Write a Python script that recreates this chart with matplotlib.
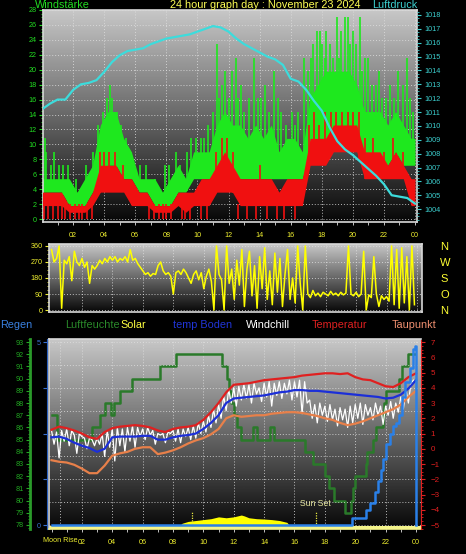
import numpy as np
import matplotlib
matplotlib.use('Agg')
import matplotlib.pyplot as plt
from matplotlib.ticker import MultipleLocator

plt.rcParams['font.family'] = ['Liberation Sans', 'DejaVu Sans']

# =========================
# Data
# =========================
# wind (km/h), envelope of each half-hour bin starting at 0:00
gust_lo = [3.6, 3.6, 3.6, 1.8, 1.8, 1.8, 3.6, 5.4, 7.2, 7.2, 5.4, 5.4,
           3.6, 3.6, 1.8, 1.8, 1.8, 3.6, 3.6, 5.4, 5.4, 5.4, 5.4, 7.2,
           5.4, 5.4, 5.4, 5.4, 5.4, 5.4, 5.4, 5.4, 5.4, 5.4, 9.0, 10.8,
           10.8, 10.8, 10.8, 10.8, 10.8, 9.0, 7.2, 7.2, 7.2, 9.0, 7.2, 7.2]
gust_hi = [5.4, 5.4, 5.4, 5.4, 3.6, 5.4, 7.2, 12.6, 14.4, 14.4, 10.8, 9.0,
           5.4, 5.4, 5.4, 3.6, 5.4, 7.2, 5.4, 9.0, 9.0, 9.0, 12.6, 14.4,
           12.6, 12.6, 10.8, 12.6, 10.8, 12.6, 9.0, 10.8, 10.8, 9.0, 16.2, 18.0,
           19.8, 19.8, 19.8, 19.8, 18.0, 14.4, 14.4, 14.4, 12.6, 14.4, 12.6, 10.8]
wind_lo = [1.8, 1.8, 1.8, 0.9, 0.9, 0.9, 1.8, 3.6, 3.6, 3.6, 3.6, 1.8,
           1.8, 1.8, 0.9, 0.9, 0.9, 1.8, 0.9, 1.8, 1.8, 1.8, 3.6, 3.6,
           3.6, 1.8, 1.8, 1.8, 1.8, 1.8, 1.8, 1.8, 1.8, 1.8, 7.2, 7.2,
           7.2, 9.0, 9.0, 9.0, 9.0, 5.4, 5.4, 5.4, 5.4, 5.4, 5.4, 1.8]
wind_hi = [3.6, 3.6, 3.6, 1.8, 1.8, 1.8, 3.6, 7.2, 7.2, 7.2, 5.4, 5.4,
           3.6, 3.6, 1.8, 1.8, 1.8, 3.6, 3.6, 3.6, 5.4, 5.4, 7.2, 9.0,
           7.2, 5.4, 5.4, 5.4, 5.4, 5.4, 3.6, 5.4, 5.4, 5.4, 10.8, 10.8,
           10.8, 12.6, 12.6, 12.6, 12.6, 9.0, 9.0, 9.0, 7.2, 9.0, 7.2, 5.4]
gust_peak_h = [0.2, 0.25, 0.55, 0.8, 1.1, 1.35, 1.65, 2.2, 2.8, 3.3, 3.6, 3.9, 4.15,
               4.4, 4.5, 4.65, 4.8, 5.05, 5.4, 5.7, 6.3, 6.7, 7.3, 7.9, 8.2, 8.6,
               8.9, 9.3, 9.6, 9.9, 10.2, 10.4, 10.7, 11.0, 11.25, 11.4, 11.6, 11.8,
               12.0, 12.2, 12.45, 12.6, 12.8, 13.0, 13.3, 13.65, 13.9, 14.1, 14.35,
               14.6, 14.9, 15.2, 15.4, 15.7, 16.1, 16.3, 16.5, 16.85, 17.1, 17.3,
               17.45, 17.7, 17.9, 18.0, 18.2, 18.3, 18.5, 18.7, 19.0, 19.1, 19.25,
               19.5, 19.7, 19.85, 20.0, 20.2, 20.45, 20.6, 20.8, 21.0, 21.25, 21.5,
               21.7, 21.9, 22.15, 22.4, 22.65, 22.9, 23.2, 23.5, 23.7, 23.9]
gust_peak = [10.8, 9.0, 7.2, 9.0, 7.2, 7.2, 7.2, 5.4, 7.2, 9.0, 12.6, 14.4, 16.2,
             18.0, 16.2, 14.4, 14.4, 12.6, 10.8, 9.0, 7.2, 7.2, 5.4, 7.2, 7.2, 9.0,
             7.2, 9.0, 10.8, 10.8, 10.8, 10.8, 12.6, 14.4, 23.4, 16.2, 18.0, 19.8,
             16.2, 19.8, 21.6, 16.2, 18.0, 14.4, 16.2, 21.6, 16.2, 16.2, 18.0,
             14.4, 19.8, 16.2, 14.4, 12.6, 14.4, 12.6, 14.4, 21.6, 19.8, 21.6,
             23.4, 25.2, 25.2, 23.4, 21.6, 25.2, 23.4, 21.6, 27.0, 21.6, 25.2,
             27.0, 27.0, 23.4, 25.2, 23.4, 27.0, 19.8, 21.6, 21.6, 18.0, 18.0,
             19.8, 16.2, 16.2, 18.0, 16.2, 19.8, 18.0, 21.6, 16.2, 14.4]
wind_peak_h = [3.7, 4.0, 4.3, 4.7, 5.2, 11.2, 11.6, 11.9, 12.3, 14.0, 17.2, 17.5,
               17.8, 18.2, 18.6, 18.9, 19.3, 19.7, 20.0, 20.4, 20.8, 21.3, 22.0,
               22.6, 23.2]
wind_peak = [9.0, 9.0, 9.0, 9.0, 7.2, 9.0, 10.8, 10.8, 9.0, 7.2, 12.6, 14.4,
             12.6, 14.4, 14.4, 14.4, 14.4, 14.4, 14.4, 14.4, 10.8, 10.8, 9.0,
             10.8, 9.0]
wind_calm_h = [0.1, 0.4, 0.7, 1.0, 1.3, 1.5, 1.8, 2.1, 2.4, 2.6, 2.9, 3.2, 6.9,
               7.2, 7.5, 7.8, 8.0, 8.3, 9.0, 9.2, 9.5, 10.2, 10.6, 12.6, 13.2,
               13.8, 14.5, 15.1, 15.6, 16.3]

# pressure (hPa), every half hour 0:00 .. 24:00
pressure = [1011.2, 1011.6, 1011.9, 1011.9, 1012.6, 1013.0, 1013.1, 1013.3, 1013.9,
            1014.6, 1015.1, 1015.4, 1015.5, 1015.6, 1015.9, 1016.1, 1016.3, 1016.4,
            1016.5, 1016.6, 1016.8, 1017.0, 1017.2, 1017.1, 1016.8, 1016.3, 1015.9,
            1015.6, 1015.3, 1015.0, 1014.8, 1014.4, 1013.4, 1013.2, 1012.6, 1011.8,
            1011.1, 1009.9, 1008.9, 1008.3, 1007.9, 1007.4, 1006.9, 1006.4, 1005.8,
            1005.0, 1004.9, 1004.8, 1004.4]

# wind direction (deg), every 10 minutes
direction = [340, 270, 290, 360, 10, 280, 260, 300, 165, 330, 270, 250,
             290, 240, 270, 150, 250, 230, 250, 280, 260, 290, 270, 300,
             280, 300, 270, 290, 280, 300, 270, 340, 280, 290, 260, 240,
             220, 200, 210, 190, 205, 200, 250, 270, 220, 200, 210, 190,
             90, 210, 220, 200, 230, 210, 180, 150, 200, 220, 170, 210,
             120, 190, 230, 160, 0, 360, 200, 170, 0, 360, 150, 230,
             60, 280, 140, 340, 20, 230, 330, 80, 250, 10, 300, 120,
             350, 60, 220, 30, 320, 100, 290, 20, 200, 340, 60, 180,
             40, 360, 150, 0, 360, 90, 70, 110, 80, 95, 75, 100,
             90, 80, 105, 85, 95, 80, 100, 85, 95, 360, 90, 80,
             100, 75, 90, 330, 0, 85, 70, 300, 90, 20, 80, 60,
             75, 50, 360, 30, 340, 10, 350, 40, 300, 0, 360, 30]
compass = ['N', 'W', 'S', 'O', 'N']

# humidity (%), step changes
humidity_h = [0.0, 0.36, 2.66, 3.19, 3.52, 3.91, 4.11, 4.5, 5.3, 7.14, 8.2, 11.2,
              11.55, 11.7, 11.85, 12.0, 12.2, 12.5, 13.3, 13.55, 14.4, 14.65, 16.7,
              17.2, 18.0, 18.3, 18.6, 19.3, 19.7, 19.84, 19.97, 20.7, 20.8, 21.15,
              21.35, 21.8, 21.9, 22.0, 22.9, 23.1, 23.45, 23.95]
humidity = [87, 85, 86, 87, 88, 87, 88, 89, 90, 91, 92, 91,
            90, 89, 88, 87, 86, 85, 86, 85, 86, 85, 84,
            83, 82, 81, 80, 79, 80, 81, 82, 83, 84, 85,
            86, 87, 88, 89, 90, 91, 92, 92]

# temperatures (deg C), every half hour 0:00 .. 24:00
temperature = [1.25, 1.45, 1.35, 1.2, 1.0, 0.75, 0.65, 1.1, 1.35, 1.45, 1.5, 1.55,
               1.5, 1.4, 1.2, 1.1, 1.3, 1.4, 1.45, 1.55, 1.9, 2.4, 3.0, 3.7,
               4.2, 4.25, 4.3, 4.4, 4.5, 4.55, 4.6, 4.65, 4.7, 4.8, 4.85, 4.9,
               4.95, 4.95, 4.9, 4.95, 4.7, 4.55, 4.5, 4.3, 4.1, 4.05, 4.3, 4.7, 4.95]
ground_temp = [0.75, 0.8, 0.65, 0.4, 0.2, 0.05, -0.2, 0.0, 0.75, 0.8, 0.8, 0.8,
               0.85, 0.85, 0.6, 0.6, 0.75, 0.85, 0.9, 1.0, 1.3, 1.7, 2.2, 3.0,
               3.3, 3.35, 3.4, 3.45, 3.5, 3.6, 3.7, 3.75, 3.85, 3.85, 3.8, 3.8,
               3.75, 3.7, 3.65, 3.6, 3.55, 3.5, 3.45, 3.4, 3.3, 3.35, 3.55, 3.95, 4.5]
dewpoint = [-0.75, -0.85, -0.9, -1.05, -1.3, -1.6, -1.6, -1.1, -0.45, -0.3, -0.2, 0.0,
            0.1, 0.1, -0.35, -0.25, -0.1, 0.1, 0.35, 0.55, 0.7, 0.95, 1.3, 2.0,
            2.2, 2.1, 2.15, 2.2, 2.2, 2.3, 2.35, 2.4, 2.4, 2.35, 2.25, 2.15,
            2.0, 1.9, 1.7, 1.55, 1.65, 1.8, 2.0, 2.2, 2.4, 2.6, 2.9, 3.4, 3.8]
# windchill (deg C), every 10 minutes
windchill = [1.2, 0.3, 1.1, -0.6, 1.2, 0.5, 1.3, 0.2, 1.2, 0.9, -0.3, 1.0,
             0.8, 0.7, 0.0, 0.7, 0.6, 0.2, 0.7, 0.3, 1.0, -0.5, 1.2, 0.1,
             1.3, -0.8, 1.4, 0.2, 1.3, -0.2, 1.4, 0.5, 1.5, 0.1, 1.4, 0.8,
             1.3, 0.6, 1.4, 0.9, 1.2, 0.3, 1.0, 0.9, 1.0, 0.4, 1.1, 1.0,
             1.2, 0.5, 1.3, 0.4, 1.3, 0.8, 1.4, 0.6, 1.5, 0.7, 1.7, 1.0,
             1.8, 1.1, 2.2, 1.4, 2.6, 1.7, 2.9, 2.0, 3.5, 2.5, 3.9, 3.0,
             4.0, 2.8, 4.1, 3.2, 4.2, 3.3, 4.2, 3.0, 4.3, 3.6, 4.0, 3.1,
             4.3, 3.4, 4.4, 2.8, 4.3, 3.5, 4.4, 3.3, 4.3, 3.6, 4.5, 3.2,
             4.4, 3.4, 4.5, 2.3, 4.4, 3.0, 3.2, 2.0, 2.9, 1.7, 3.0, 2.2,
             2.8, 1.8, 2.9, 1.9, 2.6, 1.5, 2.7, 1.9, 2.6, 1.4, 2.8, 1.7,
             2.9, 2.0, 3.0, 1.6, 2.9, 2.2, 2.7, 1.9, 3.0, 2.2, 2.8, 1.6,
             2.8, 2.2, 3.1, 2.0, 3.0, 2.4, 3.4, 2.6, 3.9, 3.0, 4.3, 4.5]

# rain (mm, daily total)
rain_h = [0, 19.8, 20.7, 21.0, 21.3, 21.5, 21.7, 21.8, 22.0, 22.3, 22.5, 22.7,
          22.9, 23.1, 23.3, 23.6, 23.8, 23.95, 24.0]
rain_mm = [0, 0.2, 0.4, 0.6, 0.9, 1.2, 1.5, 1.8, 2.2, 2.5, 2.7, 2.8,
           3.0, 3.5, 3.9, 4.3, 4.8, 4.9, 0]

# solar (W/m2)
solar_h = [8.4, 8.6, 9.0, 9.5, 10.0, 10.5, 11.0, 11.5, 12.0, 12.5, 12.7, 13.0,
           13.5, 14.0, 14.5, 15.0, 15.5, 15.7]
solar = [0, 15, 25, 30, 35, 40, 50, 45, 50, 60, 55, 45, 40, 38, 35, 30, 20, 0]

moon_rise = 0.56
sun_rise = 9.25
sun_set = 17.4

hour_labels = ['02', '04', '06', '08', '10', '12', '14', '16', '18', '20', '22', '00']

# =========================
# Figure
# =========================
W, H = 466, 554
fig = plt.figure(figsize=(W / 100, H / 100), dpi=100, facecolor='black')

def px_axes(x0, y0, x1, y1):
    return fig.add_axes([x0 / W, 1 - y1 / H, (x1 - x0) / W, (y1 - y0) / H])

grad = np.linspace(0.78, 0.03, 256).reshape(-1, 1)

def shade(ax):
    ax.set_facecolor('black')
    ax.imshow(grad, cmap='gray', vmin=0, vmax=1, aspect='auto',
              extent=[0, 1, 0, 1], transform=ax.transAxes, zorder=0)
    for s in ax.spines.values():
        s.set_color('#d8d8d8')
        s.set_linewidth(1.2)

GRID = dict(color='#e0e0e0', linestyle=(0, (1, 2)), linewidth=0.7, alpha=0.8)
FS = 5.2
YEL = '#f0f030'

# ---------- wind / pressure ----------
ax1 = px_axes(43, 10, 417, 222)
shade(ax1)
centers = np.arange(len(gust_lo)) * 0.5 + 0.25
t_env = np.r_[0, centers, 24]
ext = lambda v: np.r_[v[0], v, v[-1]]
ax1.fill_between(t_env, ext(gust_lo), ext(gust_hi), color='#1ee81e', lw=0, zorder=2)
# gust peaks rise from the gust band, wind peaks from the wind band
ax1.vlines(gust_peak_h, np.interp(gust_peak_h, t_env, ext(gust_lo)), gust_peak,
           color='#1ee81e', lw=1.2, zorder=2)
ax1.fill_between(t_env, ext(wind_lo), ext(wind_hi), color='#f01010', lw=0, zorder=3)
ax1.vlines(wind_peak_h, np.interp(wind_peak_h, t_env, ext(wind_lo)), wind_peak,
           color='#f01010', lw=1.2, zorder=3)
ax1.vlines(wind_calm_h, 0, 2.0, color='#f01010', lw=1.2, zorder=3)
ax1.set_xlim(0.06, 24.13)
ax1.set_ylim(-0.4, 27.87)
ax1.set_yticks(np.arange(0, 29, 2))
ax1.yaxis.set_minor_locator(MultipleLocator(0.5))
ax1.tick_params(axis='y', which='both', colors='#22dd22', labelsize=FS, direction='out', pad=1.5)
ax1.tick_params(axis='y', which='major', length=3, width=0.8)
ax1.tick_params(axis='y', which='minor', length=1.5, width=0.6)
ax1.set_xticks(np.arange(2, 25, 2))
ax1.set_xticklabels(hour_labels)
ax1.xaxis.set_minor_locator(MultipleLocator(1))
ax1.tick_params(axis='x', which='both', colors='#c0c0c0', labelcolor=YEL, labelsize=FS,
                length=2, width=0.7, pad=5)
ax1.grid(True, **GRID)
ax1.set_axisbelow(True)

ax1p = ax1.twinx()
ax1p.plot(np.arange(len(pressure)) * 0.5, pressure, color='#3cdcdc', lw=1.6, zorder=5)
ax1p.set_ylim(1003.07, 1018.36)
ax1p.set_yticks(np.arange(1004, 1019))
ax1p.yaxis.set_minor_locator(MultipleLocator(0.25))
ax1p.tick_params(axis='y', which='both', colors='#3cd0d0', labelsize=FS, direction='out', pad=2)
ax1p.tick_params(axis='y', which='major', length=3, width=0.8)
ax1p.tick_params(axis='y', which='minor', length=1.5, width=0.6)
for s in ax1p.spines.values():
    s.set_visible(False)

fig.text(35 / W, 1 - 5 / H, 'Windstärke', color='#22dd22', fontsize=7.8, va='center', ha='left')
fig.text(265 / W, 1 - 5 / H, '24 hour graph day : November 23 2024', color='#ffff55',
         fontsize=7.8, va='center', ha='center')
fig.text(372 / W, 1 - 5 / H, 'Luftdruck', color='#3cd0d0', fontsize=7.8, va='center', ha='left')

# ---------- wind direction ----------
ax2 = px_axes(49, 244, 422, 312)
shade(ax2)
ax2.plot(np.arange(len(direction)) / 6, direction, color='#ffff00', lw=1.1, zorder=3)
ax2.set_xlim(-0.165, 24.33)
ax2.set_ylim(-11, 371)
ax2.set_yticks([0, 90, 180, 270, 360])
ax2.yaxis.set_minor_locator(MultipleLocator(22.5))
ax2.tick_params(axis='y', which='both', colors=YEL, labelsize=FS, direction='out', pad=1.5)
ax2.tick_params(axis='y', which='major', length=3, width=0.8)
ax2.tick_params(axis='y', which='minor', length=1.5, width=0.6)
ax2.set_xticks(np.arange(2, 25, 2))
ax2.tick_params(axis='x', length=0, labelbottom=False)
ax2.grid(True, **GRID)
ax2.set_axisbelow(True)
ax2c = ax2.twinx()
ax2c.set_ylim(-11, 371)
ax2c.set_yticks([360, 270, 180, 90, 0])
ax2c.set_yticklabels(compass)
ax2c.tick_params(axis='y', length=0, colors='#ffff33', labelsize=8, pad=13)
for s in ax2c.spines.values():
    s.set_visible(False)

# ---------- legend row ----------
legend_items = [('Regen', '#3a80e0', 0), ('Luftfeuchte', '#2a8a2a', 65), ('Solar', '#ffff40', 120),
                ('temp Boden', '#2035d8', 173), ('Windchill', '#ffffff', 246),
                ('Temperatur', '#e02020', 312), ('Taupunkt', '#f09070', 392)]
for name, col, xl in legend_items:
    fig.text(xl / W, 1 - 325 / H, name, color=col, fontsize=7.8, va='center', ha='left')

# ---------- temperature / humidity / rain / solar ----------
ax3 = px_axes(49, 339, 421, 529)
shade(ax3)
ax3.axhspan(-30, 0, color='#f4f48a', lw=0, zorder=1)
ax3.fill_between(solar_h, 0, solar, color='#ffff00', lw=0, zorder=1)
ax3.set_ylim(-16.4, 1021.9)
ax3.set_yticks([])
ax3.set_xlim(-0.165, 24.33)
ax3.set_xticks(np.arange(2, 25, 2))
ax3.set_xticklabels(hour_labels)
ax3.xaxis.set_minor_locator(MultipleLocator(1))
ax3.tick_params(axis='x', which='both', colors='#c0c0c0', labelcolor=YEL, labelsize=FS,
                length=2, width=0.7, pad=5)
ax3.grid(True, axis='x', **GRID)
ax3.axvline(moon_rise, **GRID)
ax3.set_axisbelow(True)
ax3.spines['bottom'].set_color('#f4f48a')
ax3.spines['right'].set_visible(False)
ax3.text(moon_rise, -0.058, 'Moon Rise', transform=ax3.get_xaxis_transform(), color=YEL,
         fontsize=FS, ha='center', va='center')
ax3.vlines([sun_rise], 0, 80, color='#e8e840', lw=0.9, linestyle=(0, (1, 1)), zorder=2)
ax3.vlines([sun_set], 0, 80, color='#e8e840', lw=0.9, linestyle=(0, (1, 1)), zorder=2)
ax3.text(sun_set, 100, 'Sun Set', color='#e4e49a', fontsize=6.2, ha='center', va='bottom', zorder=2)

axh = ax3.twinx()
axh.step(humidity_h, humidity, where='post', color='#2a7a2a', lw=1.8, zorder=2)
axh.set_ylim(77.67, 93.25)
axh.yaxis.set_ticks_position('left')
axh.yaxis.set_label_position('left')
axh.spines['left'].set_position(('outward', 13.7))
axh.spines['left'].set_color('#2a9a2a')
axh.spines['left'].set_linewidth(2)
for k in ('right', 'top', 'bottom'):
    axh.spines[k].set_visible(False)
axh.set_yticks(np.arange(78, 94))
axh.yaxis.set_minor_locator(MultipleLocator(0.25))
axh.tick_params(axis='y', which='both', colors='#22aa22', labelsize=FS, direction='out', pad=1.5)
axh.tick_params(axis='y', which='major', length=3, width=0.8)
axh.tick_params(axis='y', which='minor', length=1.5, width=0.6)

axt = ax3.twinx()
t_half = np.arange(len(temperature)) * 0.5
for yv in np.arange(-5, 7.1, 1.5):
    axt.axhline(yv, zorder=0.5, **GRID)
axt.plot(np.arange(len(windchill)) / 6, windchill, color='#ffffff', lw=0.9, zorder=2)
axt.plot(t_half, dewpoint, color='#e8804a', lw=1.6, zorder=3)
axt.plot(t_half, ground_temp, color='#1c2fd8', lw=1.6, zorder=3)
axt.plot(t_half, temperature, color='#e02020', lw=1.6, zorder=3)
axt.set_ylim(-5.26, 7.2)
axt.set_yticks(np.arange(-5, 8))
axt.yaxis.set_minor_locator(MultipleLocator(0.25))
axt.tick_params(axis='y', which='both', colors='#e02020', labelsize=FS + 0.6, direction='out', pad=4)
axt.tick_params(axis='y', which='major', length=3, width=0.8)
axt.tick_params(axis='y', which='minor', length=1.5, width=0.6)
axt.spines['right'].set_color('#e02020')
axt.spines['right'].set_linestyle((0, (2, 1)))
for k in ('left', 'top', 'bottom'):
    axt.spines[k].set_visible(False)

axr = ax3.twinx()
axr.step(rain_h, rain_mm, where='post', color='#2a80e8', lw=1.8, zorder=4)
axr.set_ylim(-0.109, 5.082)
axr.yaxis.set_ticks_position('left')
axr.spines['left'].set_position(('outward', 1.5))
axr.spines['left'].set_color('#2a60c0')
for k in ('right', 'top', 'bottom'):
    axr.spines[k].set_visible(False)
axr.set_yticks([0, 1.25, 2.5, 3.75, 5])
axr.set_yticklabels(['0', '', '', '', '5'])
axr.tick_params(axis='y', colors='#3a70d0', labelsize=FS, length=3, width=0.8, pad=1.5)

fig.savefig('out.png', dpi=100, facecolor='black')
